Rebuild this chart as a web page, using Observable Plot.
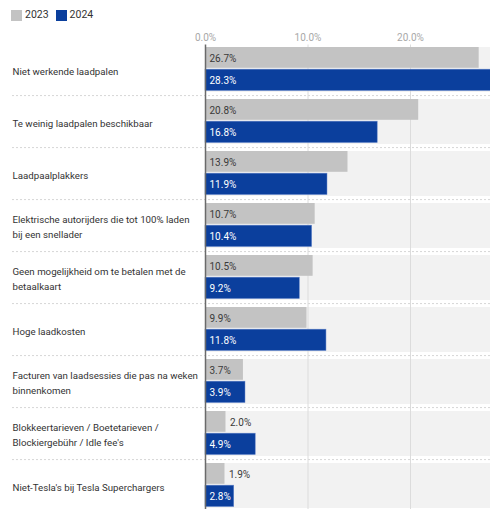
<!DOCTYPE html>
<html>
<head>
<meta charset="utf-8">
<script src="https://cdn.jsdelivr.net/npm/d3@7"></script>
<script src="https://cdn.jsdelivr.net/npm/@observablehq/plot@0.6"></script>
<style>
  html, body { margin: 0; padding: 0; background: #fff; overflow: hidden; }
  body { font-family: Roboto, "Noto Sans", sans-serif; width: 490px; height: 509px; }
  .legend { height: 26px; display: flex; align-items: center; padding-left: 11px; font-size: 10.5px; color: #333; box-sizing: border-box; padding-top: 4px; line-height: 12px; }
  .legend .sw { width: 11px; height: 11px; display: inline-block; margin-right: 3px; }
  .legend .item { display: flex; align-items: center; margin-right: 7px; }
  #chart svg { display: block; }
</style>
</head>
<body>
<div class="legend" id="legend"></div>
<div id="chart"></div>
<script>
const categories = [
  "Niet werkende laadpalen",
  "Te weinig laadpalen beschikbaar",
  "Laadpaalplakkers",
  "Elektrische autorijders die tot 100% laden\nbij een snellader",
  "Geen mogelijkheid om te betalen met de\nbetaalkaart",
  "Hoge laadkosten",
  "Facturen van laadsessies die pas na weken\nbinnenkomen",
  "Blokkeertarieven / Boetetarieven /\nBlockiergebühr / Idle fee's",
  "Niet-Tesla's bij Tesla Superchargers"
];
const years = ["2023", "2024"];
const values2023 = [26.7, 20.8, 13.9, 10.7, 10.5, 9.9, 3.7, 2.0, 1.9];
const values2024 = [28.3, 16.8, 11.9, 10.4, 9.2, 11.8, 3.9, 4.9, 2.8];
const xTicks = [0, 10, 20];
const colors = {"2023": "#c3c3c3", "2024": "#0b3f9d"};

// legend
const legendEl = document.getElementById("legend");
for (const yr of years) {
  const it = document.createElement("span");
  it.className = "item";
  it.innerHTML = `<span class="sw" style="background:${colors[yr]}"></span>${yr}`;
  legendEl.appendChild(it);
}

const rows = [];
categories.forEach((c, i) => {
  rows.push({category: c, year: "2023", value: values2023[i]});
  rows.push({category: c, year: "2024", value: values2024[i]});
});
const r23 = rows.filter(d => d.year === "2023");
const r24 = rows.filter(d => d.year === "2024");
const inside = d => d.value >= 2.5;
const xMax = 30;

const W = 490, H = 483;
const step = 52.6, padIn = 0.14, padOut = 0.07;
const mTop = 18.5;
const yStart = mTop - padOut * step;
const FS = 10;

const chart = Plot.plot({
  width: W,
  height: H,
  marginLeft: 205,
  marginRight: 0,
  marginTop: mTop,
  marginBottom: 0,
  style: {fontFamily: "Roboto, 'Noto Sans', sans-serif", fontSize: "10px", background: "#fff", overflow: "hidden"},
  x: {domain: [0, xMax], range: [205, 205 + 10.25 * xMax], axis: null, label: null},
  y: {domain: categories, range: [yStart, yStart + step * categories.length], paddingInner: padIn, paddingOuter: padOut, axis: null, label: null},
  marks: [
    // background bands
    Plot.barX(categories, {x1: 0, x2: xMax, y: d => d, fill: "#f2f2f2"}),
    // separators
    Plot.ruleY(categories.slice(1), {y: d => d, dy: -(step * (1 - padIn) / 2 + 3.8), stroke: "#d6d6d6", strokeDasharray: "2,2", insetLeft: -193}),
    // gridlines
    Plot.ruleX(xTicks.slice(1), {stroke: "#dcdcdc", strokeWidth: 1}),
    // bars
    Plot.barX(r23, {x: "value", y: "category", fill: colors["2023"], insetBottom: 24.2}),
    Plot.barX(r24, {x: "value", y: "category", fill: colors["2024"], insetTop: 22.2, insetBottom: 1.5}),
    Plot.barX(r24, {x: "value", y: "category", fill: "none", stroke: "#5d80c8", strokeWidth: 0.6, insetTop: 22.2, insetBottom: 1.5, strokeOpacity: 0.8}),
    // zero line
    Plot.ruleX([0], {stroke: "#6a6a6a", strokeWidth: 1.5}),
    // axis
    Plot.axisX(xTicks, {anchor: "top", label: null, tickSize: 0, tickPadding: 4, tickFormat: d => d.toFixed(1) + "%", fill: "#a8a8a8", fontSize: FS}),
    // value labels
    Plot.text(r23, {x: d => inside(d) ? 0 : d.value, y: "category", text: d => d.value.toFixed(1) + "%", dx: 4, dy: -11.7, textAnchor: "start", fill: "#3a3a3a", fontSize: FS}),
    Plot.text(r24, {x: d => inside(d) ? 0 : d.value, y: "category", text: d => d.value.toFixed(1) + "%", dx: 4, dy: 10.5, textAnchor: "start", fill: d => inside(d) ? "#fff" : "#3a3a3a", fontSize: FS}),
    // category labels
    Plot.text(categories, {y: d => d, text: d => d, frameAnchor: "left", textAnchor: "start", dx: -193, fill: "#333", fontSize: 9.7, lineHeight: 1.5})
  ]
});
document.getElementById("chart").appendChild(chart);
</script>
</body>
</html>
